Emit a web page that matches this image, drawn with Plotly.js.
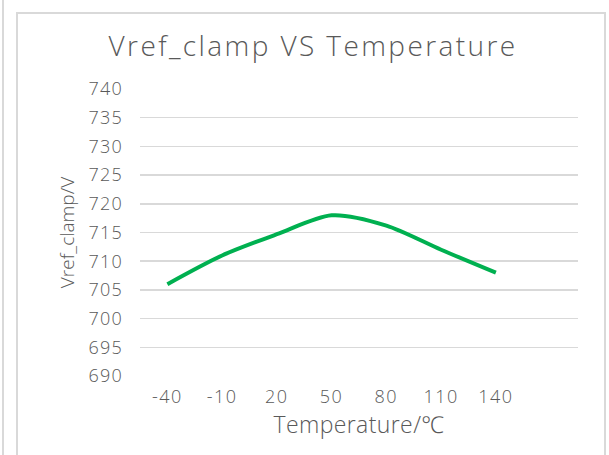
<!DOCTYPE html>
<html>
<head>
<meta charset="utf-8">
<script src="https://cdn.plot.ly/plotly-3.0.1.min.js"></script>
<style>
  html, body { margin: 0; padding: 0; background: #ffffff; overflow: hidden; }
  #wrap { position: relative; width: 609px; height: 455px; }
  #frame { position: absolute; left: 16px; top: 12px; width: 590px; height: 470px; border: 2px solid #d9d9d9; box-sizing: border-box; }
  #edge { position: absolute; left: 2px; top: 0; width: 2px; height: 455px; background: #d9d9d9; }
  #chart { position: absolute; left: 0; top: 0; width: 609px; height: 455px; }
  #chart .gtitle { letter-spacing: 2.4px; }
  #chart .xtitle { letter-spacing: 0.4px; }
  #chart .xtick text { letter-spacing: 1.5px; }
  #chart .ytick text { letter-spacing: 1.2px; }
</style>
</head>
<body>
<div id="wrap">
  <div id="edge"></div>
  <div id="frame"></div>
  <div id="chart"></div>
</div>
<script>
const categories = ["-40", "-10", "20", "50", "80", "110", "140", " "];
const temperatures = ["-40", "-10", "20", "50", "80", "110", "140"];
const vrefClamp = [706, 711, 714.7, 718, 716.2, 712, 708];
const yTicks = [690, 695, 700, 705, 710, 715, 720, 725, 730, 735, 740];

const fontFam = "'Open Sans', 'Noto Sans', sans-serif";
const gray = "#595959";

const trace = {
  x: temperatures,
  y: vrefClamp,
  type: "scatter",
  mode: "lines",
  line: { color: "#00B050", width: 4, shape: "spline", smoothing: 0.8 },
  hoverinfo: "skip",
  showlegend: false
};

const layout = {
  width: 609,
  height: 455,
  margin: { l: 140, r: 31, t: 89, b: 79 },
  paper_bgcolor: "rgba(0,0,0,0)",
  plot_bgcolor: "rgba(0,0,0,0)",
  font: { family: fontFam, color: gray, weight: 300 },
  title: {
    text: "Vref_clamp VS Temperature",
    font: { family: fontFam, size: 28, color: gray, weight: 300 },
    xref: "container", x: 313 / 609, xanchor: "center",
    yref: "container", y: 1 - 46 / 455, yanchor: "middle"
  },
  xaxis: {
    type: "category",
    categoryorder: "array",
    categoryarray: categories,
    range: [-0.5, 7.5],
    tickvals: temperatures,
    ticktext: temperatures,
    showgrid: false,
    zeroline: false,
    showline: false,
    ticks: "",
    ticklabelstandoff: 8,
    tickfont: { family: fontFam, size: 18, color: gray, weight: 300 },
    title: { text: "Temperature/℃", font: { family: fontFam, size: 23, color: gray, weight: 300 }, standoff: 4 },
    fixedrange: true
  },
  yaxis: {
    range: [690, 740],
    tickvals: yTicks,
    ticktext: yTicks.map(String),
    showgrid: true,
    gridcolor: "#d9d9d9",
    gridwidth: 1.5,
    zeroline: false,
    showline: false,
    ticks: "",
    ticklabelstandoff: 16,
    tickfont: { family: fontFam, size: 18, color: gray, weight: 300 },
    title: { text: "Vref_clamp/V", font: { family: fontFam, size: 19, color: gray, weight: 300 }, standoff: 12 },
    fixedrange: true
  }
};

Plotly.newPlot("chart", [trace], layout, { displayModeBar: false, staticPlot: true });
</script>
</body>
</html>
